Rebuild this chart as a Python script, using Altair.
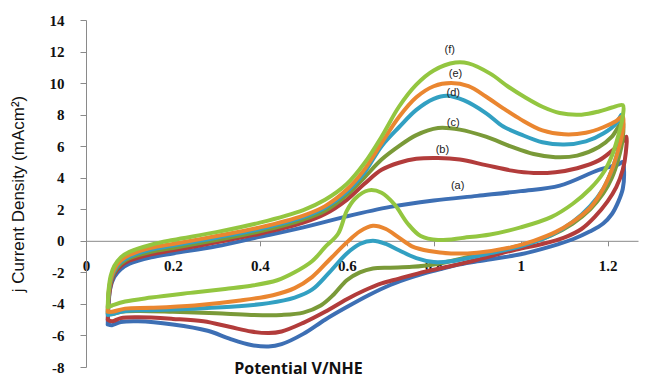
import altair as alt
import pandas as pd

# ---- data (potential V vs NHE, current density mA/cm2) ----
a_v = [0.050, 0.052, 0.056, 0.065, 0.08, 0.10, 0.15, 0.20, 0.30, 0.40, 0.50, 0.60, 0.70, 0.80, 0.90, 1.00, 1.09, 1.18, 1.225, 1.235,
       1.238, 1.235, 1.225, 1.21, 1.19, 1.16, 1.12, 1.07, 1.00, 0.90, 0.85, 0.80, 0.75, 0.70, 0.65, 0.60, 0.55, 0.50, 0.45, 0.42, 0.38, 0.33, 0.28, 0.20, 0.12, 0.08, 0.06, 0.050]
a_j = [-5.3, -4.0, -3.0, -2.3, -1.8, -1.45, -1.05, -0.8, -0.35, 0.25, 0.85, 1.55, 2.15, 2.55, 2.85, 3.15, 3.5, 4.5, 4.85, 5.0,
       4.2, 3.3, 2.5, 1.7, 1.1, 0.6, 0.1, -0.35, -0.85, -1.3, -1.55, -1.9, -2.3, -2.8, -3.45, -4.2, -5.0, -5.9, -6.55, -6.7, -6.6, -6.2, -5.7, -5.3, -5.1, -5.15, -5.35, -5.3]

b_v = [0.050, 0.052, 0.057, 0.065, 0.08, 0.10, 0.15, 0.20, 0.30, 0.40, 0.50, 0.55, 0.60, 0.64, 0.68, 0.72, 0.76, 0.81, 0.86, 0.92, 0.98, 1.03, 1.08, 1.13, 1.18, 1.21, 1.235, 1.243,
       1.242, 1.235, 1.22, 1.20, 1.17, 1.14, 1.10, 1.05, 0.99, 0.90, 0.84, 0.78, 0.72, 0.68, 0.64, 0.60, 0.55, 0.50, 0.45, 0.42, 0.38, 0.33, 0.27, 0.20, 0.12, 0.08, 0.06, 0.050]
b_j = [-5.0, -3.8, -2.8, -2.1, -1.6, -1.25, -0.85, -0.6, -0.1, 0.45, 1.15, 1.7, 2.6, 3.6, 4.5, 4.95, 5.2, 5.25, 5.15, 4.8, 4.45, 4.3, 4.35, 4.6, 5.1, 5.7, 6.3, 6.6,
       5.6, 4.5, 3.4, 2.5, 1.5, 0.75, 0.2, -0.2, -0.55, -1.2, -1.6, -1.95, -2.4, -2.7, -3.15, -3.7, -4.5, -5.2, -5.75, -5.85, -5.75, -5.45, -5.1, -4.95, -4.85, -4.9, -5.1, -5.0]

c_v = [0.050, 0.052, 0.057, 0.065, 0.08, 0.10, 0.15, 0.20, 0.30, 0.40, 0.50, 0.55, 0.60, 0.64, 0.68, 0.72, 0.76, 0.81, 0.86, 0.92, 0.98, 1.03, 1.08, 1.13, 1.18, 1.21, 1.235,
       1.235, 1.225, 1.21, 1.19, 1.16, 1.12, 1.07, 1.00, 0.90, 0.80, 0.75, 0.70, 0.66, 0.63, 0.60, 0.57, 0.54, 0.50, 0.45, 0.38, 0.30, 0.20, 0.12, 0.08, 0.06, 0.050]
c_j = [-4.6, -3.5, -2.6, -2.0, -1.45, -1.1, -0.7, -0.45, 0.05, 0.6, 1.35, 1.9, 2.9, 4.0, 5.15, 6.0, 6.7, 7.15, 7.05, 6.6, 5.95, 5.5, 5.3, 5.4, 5.95, 6.6, 7.6,
       6.5, 5.2, 4.0, 3.0, 2.0, 1.1, 0.35, -0.3, -0.9, -1.5, -1.65, -1.7, -1.75, -2.0, -2.5, -3.4, -4.1, -4.55, -4.7, -4.7, -4.6, -4.5, -4.45, -4.5, -4.65, -4.6]

d_v = [0.050, 0.052, 0.057, 0.065, 0.08, 0.10, 0.15, 0.20, 0.30, 0.40, 0.50, 0.55, 0.60, 0.64, 0.68, 0.72, 0.76, 0.80, 0.83, 0.87, 0.92, 0.96, 1.00, 1.05, 1.10, 1.15, 1.19, 1.22, 1.232,
       1.232, 1.225, 1.21, 1.19, 1.16, 1.12, 1.07, 1.00, 0.92, 0.84, 0.80, 0.76, 0.72, 0.69, 0.66, 0.63, 0.60, 0.56, 0.52, 0.48, 0.42, 0.35, 0.25, 0.15, 0.09, 0.06, 0.050]
d_j = [-4.7, -3.4, -2.5, -1.9, -1.35, -1.0, -0.55, -0.3, 0.2, 0.75, 1.5, 2.1, 3.1, 4.3, 6.0, 7.2, 8.3, 9.0, 9.2, 8.9, 8.1, 7.25, 6.75, 6.25, 6.1, 6.3, 6.8, 7.45, 8.0,
       7.0, 5.8, 4.5, 3.3, 2.2, 1.2, 0.35, -0.35, -0.85, -1.3, -1.35, -1.1, -0.6, -0.2, 0.0, -0.2, -0.8, -2.0, -3.1, -3.6, -3.95, -4.15, -4.3, -4.4, -4.45, -4.65, -4.7]

e_v = [0.050, 0.052, 0.057, 0.065, 0.08, 0.10, 0.15, 0.20, 0.30, 0.40, 0.50, 0.55, 0.60, 0.64, 0.68, 0.72, 0.76, 0.80, 0.84, 0.88, 0.92, 0.96, 1.00, 1.05, 1.10, 1.15, 1.19, 1.22, 1.235,
       1.235, 1.225, 1.21, 1.19, 1.16, 1.12, 1.08, 1.03, 0.98, 0.90, 0.84, 0.79, 0.75, 0.72, 0.69, 0.66, 0.63, 0.60, 0.56, 0.52, 0.48, 0.43, 0.35, 0.25, 0.15, 0.09, 0.06, 0.050]
e_j = [-4.5, -3.3, -2.4, -1.8, -1.25, -0.9, -0.45, -0.2, 0.3, 0.85, 1.6, 2.2, 3.25, 4.5, 6.2, 7.85, 9.1, 9.8, 10.0, 9.8, 9.15, 8.4, 7.7, 7.0, 6.75, 6.85, 7.2, 7.6, 7.9,
       7.0, 5.8, 4.5, 3.3, 2.1, 1.2, 0.55, 0.0, -0.4, -0.75, -0.8, -0.65, -0.35, 0.2, 0.75, 0.95, 0.6, -0.1, -1.2, -2.3, -3.0, -3.45, -3.8, -4.1, -4.25, -4.3, -4.5, -4.5]

f_v = [0.050, 0.052, 0.057, 0.065, 0.08, 0.10, 0.15, 0.20, 0.30, 0.40, 0.50, 0.55, 0.60, 0.64, 0.68, 0.72, 0.76, 0.80, 0.85, 0.88, 0.93, 0.97, 1.01, 1.05, 1.09, 1.14, 1.18, 1.21, 1.235,
       1.235, 1.225, 1.21, 1.19, 1.16, 1.12, 1.07, 1.00, 0.93, 0.87, 0.81, 0.77, 0.74, 0.71, 0.68, 0.65, 0.62, 0.60, 0.58, 0.55, 0.52, 0.48, 0.44, 0.38, 0.32, 0.24, 0.15, 0.09, 0.06, 0.050]
f_j = [-4.2, -3.1, -2.2, -1.6, -1.05, -0.7, -0.25, 0.05, 0.55, 1.15, 1.95, 2.6, 3.6, 4.9, 6.6, 8.5, 9.9, 10.8, 11.3, 11.25, 10.6, 9.8, 9.1, 8.5, 8.1, 8.0, 8.2, 8.45, 8.6,
       7.9, 6.7, 5.4, 4.3, 3.3, 2.35, 1.5, 0.85, 0.4, 0.2, 0.05, 0.3, 1.1, 2.3, 3.05, 3.2, 2.7, 1.9, 0.45, -0.4, -1.3, -2.0, -2.5, -2.85, -3.05, -3.3, -3.6, -3.85, -4.1, -4.2]

series = ["a", "b", "c", "d", "e", "f"]
colors = ["#3D6FB4", "#B23C3B", "#7A9A38", "#32A0C2", "#EA8630", "#93C640"]

label_text = ["(a)", "(b)", "(c)", "(d)", "(e)", "(f)"]
label_v = [0.855, 0.82, 0.845, 0.845, 0.85, 0.837]
label_j = [3.45, 5.75, 7.45, 9.35, 10.6, 12.1]

x_ticks = [0, 0.2, 0.4, 0.6, 0.8, 1, 1.2]
y_ticks = [-8, -6, -4, -2, 0, 2, 4, 6, 8, 10, 12, 14]

# ---- build tables ----
curves = {"a": (a_v, a_j), "b": (b_v, b_j), "c": (c_v, c_j),
          "d": (d_v, d_j), "e": (e_v, e_j), "f": (f_v, f_j)}
rows = []
for s in series:
    vs, js = curves[s]
    for i, (v, j) in enumerate(zip(vs, js)):
        rows.append({"series": s, "i": i, "v": v, "j": j})
df = pd.DataFrame(rows)
labels = pd.DataFrame({"lbl": label_text, "v": label_v, "j": label_j})

W, H = 552, 347
xs = alt.Scale(domain=[0, 1.27], nice=False, zero=False)
ys = alt.Scale(domain=[-8, 14], nice=False, zero=False)
zero_px = H * 14 / 22

x_axis = alt.Axis(
    values=x_ticks, format="~g", orient="bottom", offset=-(H - zero_px),
    grid=False, domainColor="#8a8a8a", tickColor="#8a8a8a", tickSize=5,
    labelFont="Liberation Serif", labelFontWeight="bold", labelFontSize=15, labelColor="#111",
    labelPadding=13, labelFlush=False, labelOverlap=False,
    title="Potential V/NHE", titleFont="Open Sans", titleFontWeight="bold", titleFontSize=16,
    titleColor="#111", titleX=212, titleY=133, titleAlign="center", titleBaseline="alphabetic")
y_axis = alt.Axis(
    values=y_ticks, labelExpr="toString(datum.value)",
    grid=False, domainColor="#8a8a8a", tickColor="#8a8a8a", tickSize=6,
    labelFont="Liberation Serif", labelFontWeight="bold", labelFontSize=15, labelColor="#111",
    labelPadding=16, labelFlush=False, labelOverlap=False,
    title="j Current Density (mAcm²)", titleFont="Liberation Sans", titleFontWeight="normal",
    titleFontSize=17, titleColor="#111", titleX=-68, titleY=H / 2, titleAngle=-90,
    titleAlign="center", titleBaseline="middle")

lines = alt.Chart(df).mark_line(strokeWidth=4, interpolate="catmull-rom", strokeCap="round", strokeJoin="round").encode(
    x=alt.X("v:Q", scale=xs, axis=x_axis),
    y=alt.Y("j:Q", scale=ys, axis=y_axis),
    color=alt.Color("series:N", scale=alt.Scale(domain=series, range=colors), legend=None),
    order=alt.Order("i:Q"),
)

texts = alt.Chart(labels).mark_text(font="Liberation Sans", fontSize=11, color="#222").encode(
    x=alt.X("v:Q", scale=xs, axis=x_axis),
    y=alt.Y("j:Q", scale=ys, axis=y_axis),
    text="lbl:N",
)

chart = alt.layer(lines, texts).properties(
    width=W, height=H,
    autosize=alt.AutoSizeParams(type="none"),
    padding={"left": 78, "top": 12, "right": 2, "bottom": 16},
).configure_view(strokeWidth=0).configure_axis(labelOverlap=False)

chart.save("out.html", embed_options={"renderer": "svg", "actions": False})
